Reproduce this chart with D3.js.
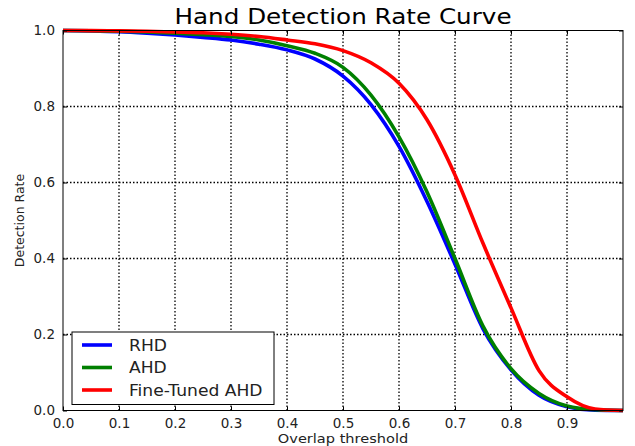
<!DOCTYPE html>
<html>
  <head>
    <title>Hand Detection Rate Curve</title>
    <meta charset="utf-8">
    <script type="text/javascript" src="https://d3js.org/d3.v7.min.js"></script>
    <style>
      body { margin: 0; background: #fff; }
      text { font-family: "DejaVu Sans", sans-serif; }
    </style>
  </head>
  <body>
    <svg></svg>
    <script type="text/javascript">
      // thresholds on the x axis
      var thresholds = [0.0, 0.05, 0.1, 0.15, 0.2, 0.25, 0.3, 0.35, 0.4, 0.45, 0.5,
                        0.55, 0.6, 0.65, 0.7, 0.75, 0.8, 0.85, 0.9, 0.95, 1.0];
      var rhd = [1.0, 0.999, 0.997, 0.993, 0.988, 0.982, 0.975, 0.964, 0.949, 0.925, 0.880,
                 0.805, 0.695, 0.550, 0.385, 0.215, 0.107, 0.040, 0.010, 0.001, 0.0];
      var ahd = [1.0, 0.9995, 0.998, 0.996, 0.993, 0.989, 0.984, 0.975, 0.960, 0.940, 0.903,
                 0.830, 0.720, 0.575, 0.400, 0.222, 0.110, 0.045, 0.012, 0.002, 0.0];
      var fineTuned = [1.0, 0.9998, 0.999, 0.998, 0.996, 0.994, 0.990, 0.984, 0.975, 0.965, 0.947,
                       0.915, 0.861, 0.765, 0.620, 0.440, 0.270, 0.105, 0.036, 0.004, 0.0];
      var seriesNames = ['RHD', 'AHD', 'Fine-Tuned AHD'];
      var seriesColors = ['#0000ff', '#008000', '#ff0000'];
      var xTicks = [0.0, 0.1, 0.2, 0.3, 0.4, 0.5, 0.6, 0.7, 0.8, 0.9];
      var yTicks = [0.0, 0.2, 0.4, 0.6, 0.8, 1.0];

      var width = 635, height = 446;
      var margin = { left: 63, right: 12, top: 30.5, bottom: 35.5 };
      var stretch = 1.12; // the picture is a bit wider than tall

      var svg = d3.select('svg')
                  .attr('width', width)
                  .attr('height', height);

      var x = d3.scaleLinear()
                .domain([0, 1])
                .range([margin.left, width - margin.right]);
      var y = d3.scaleLinear()
                .domain([0, 1])
                .range([height - margin.bottom, margin.top]);

      // dotted grid
      var grid = svg.append('g');
      grid.selectAll('line.gx')
          .data(xTicks.slice(1))
          .enter().append('line')
          .attr('x1', function(d) { return x(d); })
          .attr('x2', function(d) { return x(d); })
          .attr('y1', y(0)).attr('y2', y(1))
          .attr('stroke', '#000').attr('stroke-width', 1.3)
          .attr('stroke-dasharray', '1.5,2');
      grid.selectAll('line.gy')
          .data(yTicks.slice(1, -1))
          .enter().append('line')
          .attr('y1', function(d) { return y(d); })
          .attr('y2', function(d) { return y(d); })
          .attr('x1', x(0)).attr('x2', x(1))
          .attr('stroke', '#000').attr('stroke-width', 1.3)
          .attr('stroke-dasharray', '1.5,2');

      // curves
      var allSeries = [rhd, ahd, fineTuned];
      var line = d3.line()
                   .x(function(d, i) { return x(thresholds[i]); })
                   .y(function(d) { return y(d); })
                   .curve(d3.curveMonotoneX);
      svg.selectAll('path.curve')
         .data(allSeries)
         .enter().append('path')
         .attr('d', line)
         .attr('fill', 'none')
         .attr('stroke', function(d, i) { return seriesColors[i]; })
         .attr('stroke-width', 3.6);

      // frame
      svg.append('rect')
         .attr('x', x(0)).attr('y', y(1))
         .attr('width', x(1) - x(0)).attr('height', y(0) - y(1))
         .attr('fill', 'none').attr('stroke', '#000').attr('stroke-width', 1);

      // axes with inward ticks
      svg.append('g')
         .attr('transform', 'translate(0,' + y(0) + ')')
         .call(d3.axisBottom(x).tickValues(xTicks)
                 .tickSizeInner(-4).tickSizeOuter(0).tickPadding(8)
                 .tickFormat(d3.format('.1f')));
      svg.append('g')
         .attr('transform', 'translate(0,' + y(1) + ')')
         .call(d3.axisTop(x).tickValues(xTicks).tickSizeInner(-4).tickSizeOuter(0)
                 .tickFormat(''));
      svg.append('g')
         .attr('transform', 'translate(' + x(0) + ',0)')
         .call(d3.axisLeft(y).tickValues(yTicks)
                 .tickSizeInner(-4).tickSizeOuter(0).tickPadding(8)
                 .tickFormat(d3.format('.1f')));
      svg.append('g')
         .attr('transform', 'translate(' + x(1) + ',0)')
         .call(d3.axisRight(y).tickValues(yTicks).tickSizeInner(-4).tickSizeOuter(0)
                 .tickFormat(''));
      svg.selectAll('.domain').remove();
      svg.selectAll('.tick text')
         .attr('font-family', '"DejaVu Sans", sans-serif')
         .attr('font-size', 13.5).attr('fill', '#222');

      // title and labels (slightly stretched sideways like the source image)
      svg.append('text')
         .attr('transform', 'translate(343,24) scale(' + stretch + ',1)')
         .attr('text-anchor', 'middle')
         .attr('font-size', 22)
         .text('Hand Detection Rate Curve');
      svg.append('text')
         .attr('transform', 'translate(343,443) scale(' + stretch + ',1)')
         .attr('text-anchor', 'middle')
         .attr('font-size', 13).attr('fill', '#222')
         .text('Overlap threshold');
      svg.append('text')
         .attr('transform', 'translate(24,' + y(0.5) + ') rotate(-90)')
         .attr('text-anchor', 'middle')
         .attr('font-size', 12.5).attr('fill', '#222')
         .text('Detection Rate');

      // legend
      var legend = svg.append('g').attr('transform', 'translate(72,332)');
      legend.append('rect')
            .attr('width', 202).attr('height', 72.5)
            .attr('fill', '#fff').attr('stroke', '#000').attr('stroke-width', 1);
      var items = legend.selectAll('g.item')
                        .data(seriesNames)
                        .enter().append('g')
                        .attr('transform', function(d, i) {
                          return 'translate(0,' + (13 + i * 22.5) + ')';
                        });
      items.append('line')
           .attr('x1', 10).attr('x2', 40)
           .attr('stroke', function(d, i) { return seriesColors[i]; })
           .attr('stroke-width', 3.6);
      items.append('text')
           .attr('transform', 'translate(57,5.5) scale(' + stretch + ',1)')
           .attr('font-size', 15.3).attr('fill', '#222')
           .text(function(d) { return d; });
    </script>
  </body>
</html>
